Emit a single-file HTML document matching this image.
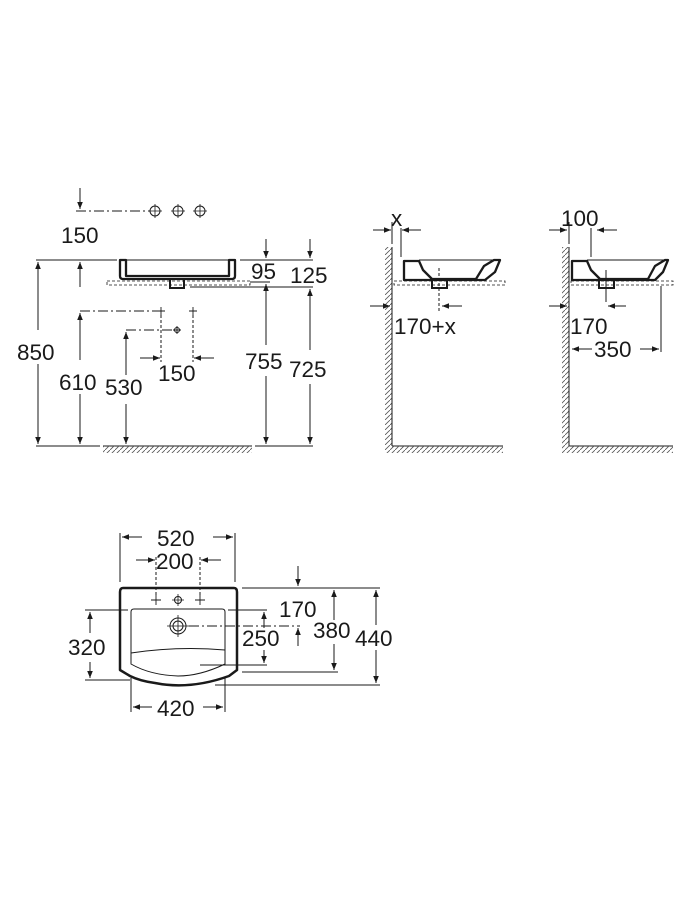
<!DOCTYPE html>
<html><head><meta charset="utf-8"><style>
html,body{margin:0;padding:0;background:#fff}
svg{display:block}
text{font-family:"Liberation Sans",Arial,sans-serif;font-size:22.5px;fill:#1a1a1a}
</style></head><body>
<svg width="694" height="908" viewBox="0 0 694 908" xmlns="http://www.w3.org/2000/svg">
<defs>
<marker id="a" viewBox="0 0 10 10" refX="10" refY="5" markerWidth="8" markerHeight="7" orient="auto-start-reverse" markerUnits="userSpaceOnUse"><path d="M0,1 L10,5 L0,9 z" fill="#1a1a1a"/></marker>
<pattern id="h" width="5" height="5" patternUnits="userSpaceOnUse"><path d="M-1,6 L6,-1" stroke="#555" stroke-width="0.8"/></pattern>
</defs>
<g stroke="#1a1a1a" stroke-width="1" fill="none">
<!-- LEFT VIEW -->
<line x1="80" y1="188" x2="80" y2="209" marker-end="url(#a)"/>
<line x1="76" y1="211" x2="150" y2="211" stroke-dasharray="10,3,2,3"/>
<circle cx="155" cy="211" r="5"/><circle cx="178" cy="211" r="5"/><circle cx="200" cy="211" r="5"/>
<path d="M148,211h14M155,204v14M171,211h14M178,204v14M193,211h14M200,204v14" stroke-width="0.8"/>
<line x1="36" y1="260" x2="117" y2="260"/>
<line x1="240" y1="260" x2="313" y2="260"/>
<path d="M120,260 V276 Q120,279 123,279 H232 Q235,279 235,276 V260 H229 V276 H126 V260 Z" stroke-width="2.3" stroke-linejoin="round"/>
<line x1="126" y1="260" x2="229" y2="260"/>
<path d="M170,280 v8 h14 v-8" stroke-width="2"/>
<rect x="107" y="281" width="143" height="4" stroke-dasharray="3,2" stroke-width="0.8"/>
<line x1="190" y1="287" x2="313" y2="287"/>
<line x1="250" y1="282" x2="270" y2="282"/>
<line x1="266" y1="239" x2="266" y2="258" marker-end="url(#a)"/>
<line x1="310" y1="239" x2="310" y2="258" marker-end="url(#a)"/>
<line x1="266" y1="345" x2="266" y2="284" marker-end="url(#a)"/>
<line x1="266" y1="376" x2="266" y2="444" marker-end="url(#a)"/>
<line x1="310" y1="350" x2="310" y2="289" marker-end="url(#a)"/>
<line x1="310" y1="384" x2="310" y2="444" marker-end="url(#a)"/>
<line x1="38" y1="330" x2="38" y2="262" marker-end="url(#a)"/>
<line x1="38" y1="364" x2="38" y2="444" marker-end="url(#a)"/>
<line x1="80" y1="287" x2="80" y2="262" marker-end="url(#a)"/>
<line x1="80" y1="360" x2="80" y2="313" marker-end="url(#a)"/>
<line x1="80" y1="394" x2="80" y2="444" marker-end="url(#a)"/>
<line x1="80" y1="311" x2="158" y2="311" stroke-dasharray="10,3,2,3"/>
<line x1="126" y1="375" x2="126" y2="332" marker-end="url(#a)"/>
<line x1="126" y1="404" x2="126" y2="444" marker-end="url(#a)"/>
<line x1="126" y1="330" x2="172" y2="330" stroke-dasharray="10,3,2,3"/>
<path d="M157,311h8M161,307v8M189,311h8M193,307v8M173,330h8M177,326v8" stroke-width="0.9"/>
<circle cx="177" cy="330" r="2.5"/>
<line x1="161" y1="315" x2="161" y2="362" stroke-dasharray="3,2"/>
<line x1="193" y1="315" x2="193" y2="362" stroke-dasharray="3,2"/>
<line x1="140" y1="358" x2="160" y2="358" marker-end="url(#a)"/>
<line x1="214" y1="358" x2="194" y2="358" marker-end="url(#a)"/>
<line x1="36" y1="446" x2="100" y2="446"/>
<line x1="103" y1="446" x2="252" y2="446"/>
<rect x="103" y="446" width="149" height="7" fill="url(#h)" stroke="none"/>
<line x1="255" y1="446" x2="313" y2="446"/>

<!-- VIEW A -->
<rect x="385" y="247" width="7" height="199" fill="url(#h)" stroke="none"/>
<line x1="392" y1="247" x2="392" y2="446"/>
<line x1="392" y1="446" x2="503" y2="446"/>
<rect x="385" y="446" width="118" height="7" fill="url(#h)" stroke="none"/>
<line x1="392" y1="222" x2="392" y2="244"/>
<line x1="373" y1="230" x2="391" y2="230" marker-end="url(#a)"/>
<line x1="421" y1="230" x2="402" y2="230" marker-end="url(#a)"/>
<line x1="401" y1="228" x2="401" y2="257"/>
<path d="M404,280 V261 H419 L423,270 L432,279 L476,279 L484,266 L494,260 H500 L495,272 L485,280 Z" stroke-width="2.3" stroke-linejoin="round"/>
<line x1="419" y1="260" x2="500" y2="260"/>
<path d="M432,281 v7 h15 v-7" stroke-width="2"/>
<rect x="394" y="281" width="111" height="4" stroke-dasharray="3,2" stroke-width="0.8"/>
<line x1="439" y1="268" x2="439" y2="311" stroke-dasharray="3,2"/>
<line x1="370" y1="306" x2="390" y2="306" marker-end="url(#a)"/>
<line x1="462" y1="306" x2="442" y2="306" marker-end="url(#a)"/>

<!-- VIEW B -->
<rect x="562" y="247" width="7" height="199" fill="url(#h)" stroke="none"/>
<line x1="569" y1="247" x2="569" y2="446"/>
<line x1="569" y1="446" x2="673" y2="446"/>
<rect x="562" y="446" width="111" height="7" fill="url(#h)" stroke="none"/>
<line x1="569" y1="222" x2="569" y2="244"/>
<line x1="549" y1="230" x2="567" y2="230" marker-end="url(#a)"/>
<line x1="617" y1="230" x2="597" y2="230" marker-end="url(#a)"/>
<line x1="591" y1="228" x2="591" y2="257"/>
<path d="M572,280 V261 H587 L591,270 L600,279 L648,279 L655,266 L665,260 H668 L663,272 L655,280 Z" stroke-width="2.3" stroke-linejoin="round"/>
<line x1="587" y1="260" x2="668" y2="260"/>
<path d="M599,281 v7 h15 v-7" stroke-width="2"/>
<rect x="571" y="281" width="102" height="4" stroke-dasharray="3,2" stroke-width="0.8"/>
<line x1="606" y1="270" x2="606" y2="302"/>
<line x1="549" y1="306" x2="567" y2="306" marker-end="url(#a)"/>
<line x1="626" y1="306" x2="608" y2="306" marker-end="url(#a)"/>
<line x1="661" y1="286" x2="661" y2="352"/>
<line x1="592" y1="349" x2="572" y2="349" marker-end="url(#a)"/>
<line x1="640" y1="349" x2="659" y2="349" marker-end="url(#a)"/>

<!-- BOTTOM PLAN -->
<line x1="120" y1="533" x2="120" y2="582"/>
<line x1="235" y1="533" x2="235" y2="582"/>
<line x1="142" y1="537" x2="122" y2="537" marker-end="url(#a)"/>
<line x1="213" y1="537" x2="233" y2="537" marker-end="url(#a)"/>
<line x1="136" y1="560" x2="155" y2="560" marker-end="url(#a)"/>
<line x1="221" y1="560" x2="201" y2="560" marker-end="url(#a)"/>
<line x1="156" y1="557" x2="156" y2="596" stroke-dasharray="3,2"/>
<line x1="200" y1="557" x2="200" y2="596" stroke-dasharray="3,2"/>
<path d="M123,588 H234 Q237,588 237,592 V670 L229,676 Q190,690 155,683 Q140,681 130,676 L120,670 V592 Q120,588 123,588 Z" stroke-width="2.5" stroke-linejoin="round"/>
<path d="M134,609 H222 Q225,609 225,612 V664 Q200,676 178,676 Q150,675 131,664 V612 Q131,609 134,609 Z" stroke-width="1"/>
<path d="M131,653 Q178,646 225,650" stroke-width="1"/>
<circle cx="178" cy="600" r="3.5"/>
<path d="M151,600h10M156,595v10M195,600h10M200,595v10" stroke-width="0.9"/>
<path d="M172,600h12M178,594v12" stroke-width="0.8"/>
<circle cx="178" cy="626" r="8"/><circle cx="178" cy="626" r="5"/>
<path d="M167,626h22M178,615v22" stroke-width="0.8"/>
<line x1="189" y1="626" x2="300" y2="626" stroke-dasharray="10,3,2,3"/>
<line x1="85" y1="610" x2="128" y2="610"/>
<line x1="85" y1="680" x2="130" y2="680"/>
<line x1="90" y1="633" x2="90" y2="612" marker-end="url(#a)"/>
<line x1="90" y1="662" x2="90" y2="678" marker-end="url(#a)"/>
<line x1="228" y1="610" x2="267" y2="610"/>
<line x1="200" y1="665" x2="267" y2="665"/>
<line x1="264" y1="628" x2="264" y2="612" marker-end="url(#a)"/>
<line x1="264" y1="650" x2="264" y2="663" marker-end="url(#a)"/>
<line x1="298" y1="566" x2="298" y2="586" marker-end="url(#a)"/>
<line x1="298" y1="646" x2="298" y2="628" marker-end="url(#a)"/>
<line x1="242" y1="588" x2="380" y2="588"/>
<line x1="242" y1="672" x2="338" y2="672"/>
<line x1="215" y1="685" x2="380" y2="685"/>
<line x1="334" y1="620" x2="334" y2="590" marker-end="url(#a)"/>
<line x1="334" y1="644" x2="334" y2="670" marker-end="url(#a)"/>
<line x1="376" y1="625" x2="376" y2="590" marker-end="url(#a)"/>
<line x1="376" y1="650" x2="376" y2="683" marker-end="url(#a)"/>
<line x1="131" y1="678" x2="131" y2="712"/>
<line x1="225" y1="678" x2="225" y2="712"/>
<line x1="152" y1="707" x2="133" y2="707" marker-end="url(#a)"/>
<line x1="203" y1="707" x2="223" y2="707" marker-end="url(#a)"/>
</g>
<g>
<text x="61" y="243">150</text>
<text x="251" y="279">95</text>
<text x="290" y="283">125</text>
<text x="17" y="360">850</text>
<text x="59" y="390">610</text>
<text x="105" y="395">530</text>
<text x="158" y="381">150</text>
<text x="245" y="369">755</text>
<text x="289" y="377">725</text>
<text x="391" y="226">x</text>
<text x="394" y="334">170+x</text>
<text x="561" y="226">100</text>
<text x="570" y="334">170</text>
<text x="594" y="357">350</text>
<text x="157" y="546">520</text>
<text x="156" y="569">200</text>
<text x="279" y="617">170</text>
<text x="242" y="646">250</text>
<text x="313" y="638">380</text>
<text x="355" y="646">440</text>
<text x="68" y="655">320</text>
<text x="157" y="716">420</text>
</g>
</svg>
</body></html>
